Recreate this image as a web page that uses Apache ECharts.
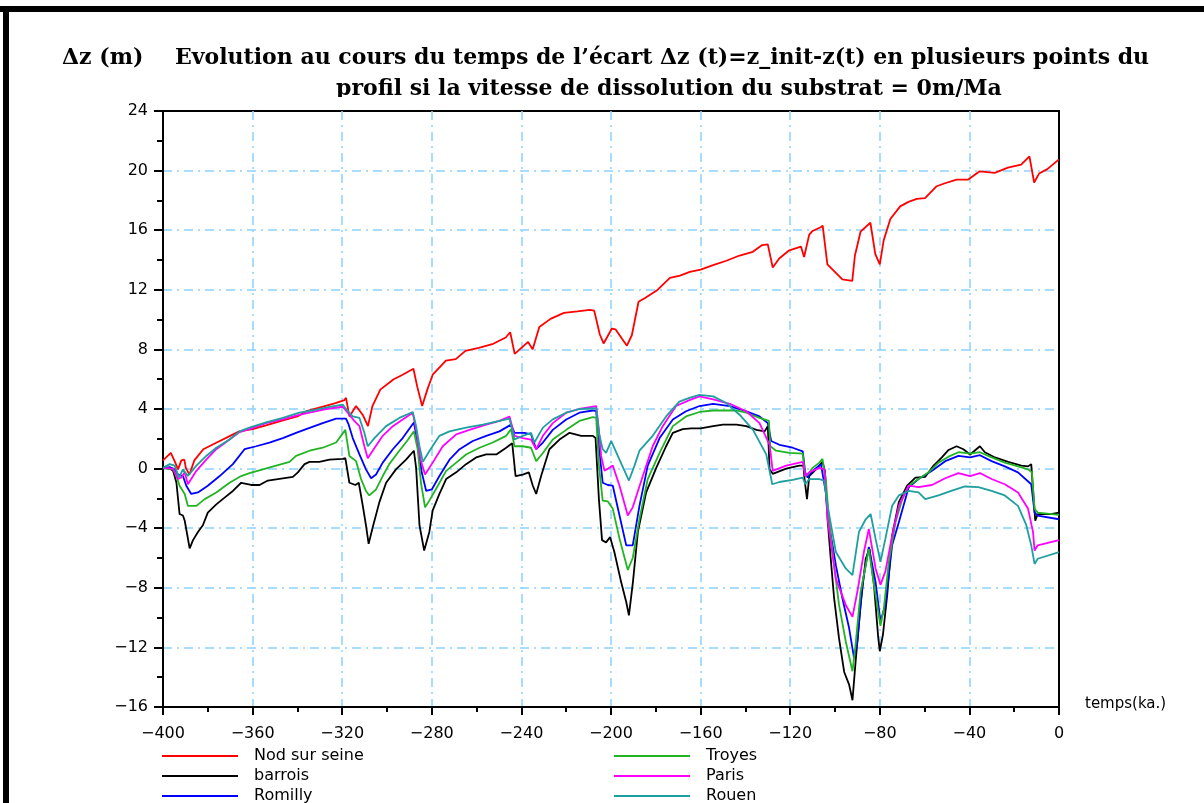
<!DOCTYPE html>
<html><head><meta charset="utf-8">
<script src="https://cdn.jsdelivr.net/npm/echarts/dist/echarts.min.js"></script>
<style>html,body{margin:0;padding:0;background:#fff}#c{width:1204px;height:803px}</style>
</head><body><div id="c"></div>
<script>
// ---- data (time in ka, Δz in m) ----
const xMin = -400, xMax = 0, xStep = 40;
const yMin = -16, yMax = 24, yStep = 4;
const seriesNames = ['Nod sur seine', 'barrois', 'Romilly', 'Troyes', 'Paris', 'Rouen'];
const seriesColors = ['#ff0000', '#000000', '#0000ff', '#22b422', '#ff00ff', '#1f9f9f'];

const nodSurSeine = [[-400,0.55],[-396.5,1.05],[-394.8,0.5],[-393.3,-0.05],[-391.8,0.55],[-390.5,0.6],[-389.8,0.05],[-388.2,-0.4],[-386,0.55],[-382,1.3],[-376,1.75],[-370,2.2],[-366,2.5],[-360,2.65],[-354,2.9],[-346,3.25],[-340,3.5],[-336,3.85],[-329,4.15],[-323,4.4],[-319,4.6],[-318.3,4.75],[-316.8,3.5],[-313.8,4.2],[-310.8,3.6],[-308.5,2.85],[-306.5,4.2],[-303,5.3],[-297,6.0],[-293,6.3],[-288.2,6.7],[-286.5,5.5],[-284.3,4.2],[-282,5.3],[-279.6,6.3],[-273.7,7.25],[-269.3,7.35],[-265,7.9],[-259,8.1],[-253,8.35],[-247,8.8],[-245,9.15],[-243,7.7],[-240,8.1],[-237,8.5],[-235,8.0],[-232,9.5],[-227,10.05],[-221,10.45],[-215,10.55],[-209.5,10.65],[-207.5,10.6],[-205,9.0],[-203.3,8.4],[-199.6,9.4],[-198,9.35],[-195,8.7],[-192.9,8.25],[-190.7,8.95],[-187.7,11.2],[-184.8,11.45],[-179.6,11.95],[-173.7,12.8],[-169.2,12.95],[-164.8,13.2],[-160,13.35],[-154.4,13.65],[-148.5,13.95],[-142.6,14.3],[-136.7,14.55],[-132.5,15.0],[-130,15.05],[-127.8,13.5],[-124.9,14.1],[-120.4,14.65],[-115.2,14.9],[-113.8,14.2],[-111.5,15.7],[-110,15.95],[-106.4,16.2],[-105.5,16.3],[-103.4,13.7],[-96.7,12.7],[-92.3,12.6],[-91.1,14.3],[-88.6,15.9],[-84.2,16.5],[-82,14.4],[-80,13.7],[-78.3,15.3],[-75.3,16.75],[-70.9,17.6],[-67.2,17.9],[-63.5,18.1],[-59.8,18.15],[-54.6,18.95],[-50.9,19.15],[-45.7,19.4],[-40.5,19.4],[-35.4,19.95],[-28.7,19.85],[-22.8,20.2],[-16.9,20.4],[-13.2,20.95],[-11.1,19.2],[-8.9,19.8],[-5.2,20.1],[0,20.75]];

const barrois = [[-400,0.05],[-397,0],[-395.5,-0.15],[-394,-0.95],[-393.3,-2.0],[-392.6,-3.05],[-391.1,-3.15],[-390.3,-3.5],[-388.1,-5.35],[-386.6,-4.8],[-384.4,-4.25],[-382.2,-3.8],[-380,-2.95],[-376.2,-2.4],[-372.5,-1.95],[-368.8,-1.5],[-365.1,-0.95],[-360.6,-1.1],[-356.9,-1.1],[-353.2,-0.8],[-346.5,-0.65],[-342,-0.55],[-339.8,-0.25],[-336.8,0.3],[-334.6,0.45],[-330.2,0.45],[-325.7,0.6],[-319.8,0.65],[-318.6,0.7],[-316.8,-0.95],[-314.1,-1.1],[-312.6,-0.95],[-310.8,-2.5],[-309.4,-3.8],[-308.2,-5.05],[-306.4,-3.95],[-303.4,-2.25],[-300.4,-0.95],[-296,-0.05],[-291.5,0.6],[-288,1.2],[-287,0.05],[-285.5,-3.8],[-283.4,-5.5],[-281.1,-4.25],[-279.6,-2.8],[-276.6,-1.7],[-273.6,-0.7],[-269.1,-0.25],[-264.7,0.3],[-260.2,0.75],[-255.7,0.95],[-251.2,0.95],[-246.8,1.4],[-244.1,1.7],[-242.6,-0.5],[-239.4,-0.4],[-236.7,-0.25],[-234.9,-1.15],[-233.4,-1.7],[-231.2,-0.5],[-227.5,1.3],[-223,1.95],[-218.5,2.4],[-213.3,2.2],[-208.1,2.2],[-206.9,2.05],[-205.4,-2.05],[-204,-4.8],[-202.2,-4.95],[-200.4,-4.6],[-198.5,-5.6],[-195.5,-7.6],[-193.2,-8.95],[-192,-9.85],[-190.2,-7.6],[-188,-4.25],[-184.3,-1.6],[-179.8,0.05],[-175.4,1.5],[-172.4,2.4],[-168,2.65],[-164.2,2.7],[-160,2.7],[-154.4,2.85],[-150,2.95],[-144,2.95],[-139.6,2.85],[-135.1,2.6],[-131.4,2.5],[-130,2.85],[-129.2,-0.05],[-127.8,-0.35],[-121.8,0],[-115.9,0.2],[-114.1,0.2],[-113.6,-0.7],[-112.5,-2.05],[-111.5,-0.5],[-108.5,-0.05],[-105.6,0.45],[-104.5,-0.15],[-103.3,-3.4],[-101.9,-6.05],[-100.4,-8.7],[-98.2,-11.4],[-95.9,-13.65],[-93.7,-14.5],[-92.2,-15.55],[-90.8,-12.95],[-88.6,-9.2],[-86.3,-6.05],[-84.6,-5.4],[-82.6,-7.8],[-80.7,-11.35],[-80,-12.25],[-78.6,-11.15],[-76.7,-8.5],[-74.5,-4.5],[-71.5,-2.25],[-67.8,-1.15],[-64.1,-0.6],[-59.7,-0.55],[-56,0.2],[-52.3,0.75],[-49.3,1.25],[-45.7,1.5],[-42.7,1.3],[-39.7,0.95],[-35.3,1.5],[-33.1,1.1],[-28.6,0.75],[-22.7,0.45],[-16.8,0.2],[-13.8,0.15],[-12.4,0.3],[-11.6,-1.4],[-10.6,-3.5],[-9.5,-3.05],[-3.6,-3.05],[0,-2.95]];

const romilly = [[-400,0.05],[-397,0.1],[-394.8,-0.05],[-393.3,-0.4],[-391.1,-0.5],[-389.6,-1.15],[-387.4,-1.7],[-384.4,-1.6],[-380,-1.15],[-374.7,-0.5],[-368.8,0.3],[-363.6,1.3],[-358.4,1.5],[-352.5,1.75],[-346.5,2.05],[-340.6,2.4],[-336.1,2.65],[-328.7,3.05],[-322.7,3.35],[-318.3,3.35],[-317.1,2.95],[-315.3,2.05],[-312.3,0.95],[-309.4,-0.05],[-307.1,-0.65],[-304.9,-0.4],[-301.9,0.4],[-297.4,1.3],[-293,2.05],[-288,3.1],[-286.3,1.7],[-284.5,-0.25],[-282.5,-1.5],[-280,-1.4],[-276.6,-0.5],[-272.1,0.6],[-267.6,1.3],[-261.7,1.85],[-255.7,2.2],[-249.8,2.5],[-244.6,2.95],[-243.1,2.4],[-238.6,2.4],[-235.7,2.3],[-233.4,1.3],[-230.4,1.75],[-226,2.6],[-220,3.3],[-214.1,3.75],[-208.1,3.9],[-206.6,3.85],[-205.4,1.5],[-203.7,-0.95],[-201.4,-1.1],[-199.2,-1.15],[-196.2,-3.15],[-193.2,-5.15],[-190.3,-5.15],[-187.3,-2.5],[-183.6,0.2],[-178.3,2.05],[-172.4,3.3],[-166.5,3.85],[-160.5,4.2],[-154.4,4.35],[-147,4.2],[-139.6,3.85],[-133.7,3.5],[-130,3.05],[-128.5,1.85],[-124.8,1.6],[-118.9,1.4],[-114.4,1.15],[-113.3,-0.25],[-112.2,-0.6],[-110,-0.15],[-106.3,0.3],[-104.1,-1.6],[-102.6,-3.8],[-99.6,-6.5],[-96.7,-8.7],[-93.7,-10.7],[-91.5,-12.7],[-90,-11.6],[-87.8,-7.8],[-84.9,-5.25],[-81.9,-7.6],[-79.7,-10.25],[-77.5,-9.15],[-74.5,-5.15],[-71.5,-3.6],[-67.1,-1.25],[-62.7,-0.7],[-56.7,-0.15],[-50.8,0.5],[-44.9,0.85],[-39.7,0.75],[-35.3,0.9],[-30.1,0.5],[-24.2,0.15],[-18.3,-0.25],[-12.4,-1.05],[-10.9,-2.95],[-9.5,-3.15],[0,-3.4]];

const troyes = [[-400,0.05],[-395.5,-0.05],[-394,-0.5],[-392.6,-1.15],[-390.3,-1.7],[-388.9,-2.5],[-385.1,-2.5],[-381.4,-2.05],[-376.2,-1.6],[-370.3,-0.95],[-365.1,-0.5],[-361.4,-0.3],[-355.4,-0.05],[-349.5,0.2],[-343.5,0.45],[-340.6,0.85],[-334.6,1.2],[-328.7,1.4],[-322.7,1.75],[-318.6,2.6],[-316.8,0.85],[-313.8,0.5],[-311.6,-0.7],[-309.4,-1.5],[-307.9,-1.8],[-304.9,-1.4],[-301.9,-0.5],[-299,0.3],[-294.5,1.2],[-290.8,1.9],[-288,2.5],[-286.3,1.3],[-284.8,-1.0],[-283,-2.6],[-281.1,-2.15],[-277.3,-1.15],[-273.6,-0.15],[-269.1,0.4],[-264.7,0.95],[-258.7,1.4],[-252.8,1.75],[-246.8,2.2],[-244.6,2.65],[-243.1,1.5],[-239.4,1.5],[-235.7,1.4],[-233.4,0.5],[-230.4,1.05],[-226,1.95],[-220,2.6],[-214.1,3.2],[-208.1,3.45],[-206.6,3.4],[-205.4,0.2],[-203.7,-2.15],[-201.4,-2.2],[-199.2,-2.7],[-196.2,-4.7],[-192.5,-6.8],[-190.3,-6.0],[-187.3,-3.4],[-183.6,-0.7],[-178.3,1.05],[-172.4,2.85],[-166.5,3.5],[-160.5,3.8],[-154.4,3.9],[-144,3.9],[-139.6,3.75],[-133.7,3.4],[-129.5,3.2],[-128.9,1.5],[-126.3,1.2],[-120.4,1.05],[-114.4,1.0],[-113.3,-0.5],[-112,-0.4],[-110,0.05],[-107,0.4],[-105.6,0.65],[-104.1,-0.7],[-102.6,-3.6],[-100.4,-6.5],[-98.2,-9.15],[-95.2,-11.6],[-92.2,-13.6],[-90.8,-11.8],[-88.6,-8.3],[-84.9,-5.4],[-82.6,-7.8],[-79.7,-10.55],[-78.2,-9.4],[-76,-6.3],[-73,-3.6],[-70,-2.05],[-67.1,-1.15],[-62.7,-0.7],[-58.2,-0.25],[-53.8,0.4],[-49.3,0.8],[-44.9,1.1],[-39.7,1.0],[-35.3,1.1],[-30.1,0.75],[-24.2,0.4],[-18.3,0.15],[-13.8,-0.05],[-12.1,-0.25],[-10.9,-2.7],[-9.5,-2.95],[0,-3.1]];

const paris = [[-400,0.05],[-395.5,0],[-393.3,-0.7],[-391.8,-0.6],[-390.3,-0.25],[-388.9,-1.05],[-385.1,-0.15],[-380.7,0.6],[-376.2,1.3],[-370.3,1.95],[-365.8,2.45],[-361.4,2.65],[-354,3.05],[-346.5,3.3],[-340.6,3.55],[-334.6,3.75],[-327.2,4.0],[-319.8,4.15],[-317.5,3.75],[-314.6,3.2],[-312.3,2.85],[-310.1,1.5],[-308.6,0.7],[-306.4,1.2],[-301.9,2.2],[-297.4,2.85],[-293,3.3],[-288.5,3.75],[-287,2.6],[-285,0.6],[-283,-0.4],[-279.6,0.4],[-275.1,1.5],[-269.1,2.3],[-263.2,2.6],[-255.7,2.95],[-249.8,3.2],[-245.3,3.5],[-243.1,2.2],[-239.4,2.05],[-235.7,1.95],[-233.4,1.3],[-230.4,2.2],[-226,3.05],[-220,3.75],[-214.1,4.0],[-206.6,4.2],[-205.4,2.6],[-204.4,0.85],[-202.9,-0.15],[-199.2,0.2],[-196.2,-1.15],[-192.5,-3.15],[-190.3,-2.6],[-185.8,-0.5],[-181.4,1.5],[-176.9,2.85],[-171,4.2],[-165,4.6],[-160.5,4.85],[-154.4,4.65],[-147,4.35],[-139.6,3.85],[-133.7,3.05],[-129.2,1.6],[-127.8,-0.15],[-121.8,0.2],[-114.4,0.45],[-113.3,-0.5],[-111.5,-0.25],[-107,0.05],[-104.8,-0.05],[-103.3,-3.4],[-99.6,-7.4],[-95.2,-9.15],[-92.2,-9.95],[-90,-8.25],[-87.1,-5.6],[-84.9,-4.05],[-81.9,-6.7],[-79.7,-7.8],[-77.5,-6.9],[-74.5,-4.5],[-71.5,-2.5],[-67.1,-1.15],[-62.7,-1.25],[-56.7,-1.1],[-50.8,-0.65],[-44.9,-0.3],[-39.7,-0.5],[-35.3,-0.3],[-30.1,-0.7],[-24.2,-1.05],[-18.3,-1.6],[-13.8,-2.7],[-11.6,-4.25],[-10.9,-5.5],[-9.5,-5.15],[0,-4.8]];

const rouen = [[-400,0.05],[-397,0.3],[-394.8,0.2],[-392.9,-0.6],[-391.1,-0.05],[-388.9,-0.5],[-385.1,0.2],[-380.7,0.85],[-376.2,1.4],[-370.3,1.95],[-365.8,2.5],[-361.4,2.75],[-354,3.1],[-346.5,3.4],[-339.1,3.75],[-331.6,3.95],[-325.7,4.15],[-319.8,4.3],[-318,3.95],[-315.3,3.5],[-312.3,3.4],[-310.1,2.4],[-308.6,1.5],[-305.6,2.05],[-300.4,2.85],[-294.5,3.4],[-288.5,3.8],[-287,2.85],[-285.5,1.5],[-284,0.45],[-281,1.2],[-276.6,2.2],[-272.1,2.5],[-264.7,2.75],[-257.2,2.95],[-249.8,3.2],[-245.3,3.35],[-243.1,1.95],[-239.4,2.2],[-235.7,2.4],[-234.2,1.75],[-230.4,2.75],[-226,3.3],[-220,3.75],[-214.1,4.0],[-206.6,4.05],[-205.4,2.4],[-203.7,1.3],[-202.2,1.05],[-199.9,1.85],[-196.2,0.6],[-192,-0.8],[-189.5,0.2],[-187.3,1.2],[-181.4,2.2],[-175.4,3.5],[-169.5,4.5],[-165,4.75],[-160.5,4.95],[-154.4,4.85],[-148.5,4.4],[-142.5,3.6],[-136.6,2.6],[-130.7,0.95],[-128,-1.05],[-124.8,-0.9],[-118.9,-0.75],[-114.4,-0.6],[-113.3,-1.05],[-111.5,-0.7],[-107,-0.7],[-104.8,-0.8],[-103.3,-2.5],[-99.6,-5.6],[-95.2,-6.7],[-92.2,-7.15],[-89.3,-4.25],[-86.3,-3.4],[-84.1,-3.05],[-81.9,-4.7],[-79.7,-6.25],[-77.5,-4.7],[-74.5,-2.5],[-71.5,-1.8],[-67.1,-1.5],[-62.7,-1.6],[-59.7,-2.05],[-53.8,-1.8],[-48.1,-1.5],[-42,-1.2],[-36,-1.25],[-30.1,-1.5],[-24.2,-1.8],[-18.3,-2.5],[-14.6,-3.8],[-12.4,-5.15],[-10.9,-6.4],[-9.5,-6.05],[0,-5.6]];

const seriesData = [nodSurSeine, barrois, romilly, troyes, paris, rouen];

const titleUnit = 'Δz (m)';
const titleLine1 = 'Evolution au cours du temps de l’écart Δz (t)=z_init-z(t) en plusieurs points du';
const titleLine2 = 'profil si la vitesse de dissolution du substrat = 0m/Ma';
const xAxisName = 'temps(ka.)';

// ---- chart ----
const fmt = v => (v < 0 ? '\u2212' + Math.abs(v) : String(v));
const gridColor = '#8cd2ff';
const tickFont = {color:'#000', fontFamily:'DejaVu Sans', fontSize:16};
const titleFont = 'bold 22px "DejaVu Serif"';

const chart = echarts.init(document.getElementById('c'), null, {renderer:'canvas'});
const legendCommon = {
  orient:'vertical', top:748, height:60, padding:0, icon:'rect', itemWidth:76, itemHeight:2, itemGap:4,
  textStyle:{color:'#000', fontFamily:'DejaVu Sans', fontSize:16, lineHeight:14, padding:[0,0,0,11]},
  selectedMode:false
};
const splitCommon = {show:true, showMinLine:false, showMaxLine:false, lineStyle:{color:gridColor, width:1.5, type:[9,5,2,5]}};
chart.setOption({
  animation:false,
  backgroundColor:'#fff',
  grid:{left:163, top:111, right:145, bottom:96, show:true, borderColor:'#000', borderWidth:2, backgroundColor:'transparent'},
  xAxis:{type:'value', min:xMin, max:xMax, interval:xStep,
    axisLine:{show:true, onZero:false, lineStyle:{color:'#000', width:2}},
    axisTick:{show:true, length:8, lineStyle:{color:'#000', width:2}},
    minorTick:{show:true, splitNumber:2, length:5, lineStyle:{color:'#000', width:2}},
    splitLine:splitCommon,
    axisLabel:Object.assign({margin:19, formatter:fmt}, tickFont)},
  yAxis:{type:'value', min:yMin, max:yMax, interval:yStep,
    axisLine:{show:true, onZero:false, lineStyle:{color:'#000', width:2}},
    axisTick:{show:true, length:9, lineStyle:{color:'#000', width:2}},
    minorTick:{show:true, splitNumber:2, length:6, lineStyle:{color:'#000', width:2}},
    splitLine:splitCommon,
    axisLabel:Object.assign({margin:15, formatter:fmt}, tickFont)},
  legend:[
    Object.assign({left:162, data:seriesNames.slice(0,3)}, legendCommon),
    Object.assign({left:614, data:seriesNames.slice(3,6)}, legendCommon)
  ],
  series: seriesNames.map((n,i) => ({
    name:n, type:'line', data:seriesData[i], showSymbol:false, symbol:'none',
    color:seriesColors[i], lineStyle:{width:1.8, color:seriesColors[i]}, z:2+i
  })),
  graphic:[
    {type:'rect', shape:{x:0, y:6, width:1204, height:6}, style:{fill:'#000'}},
    {type:'rect', shape:{x:3, y:6, width:6, height:797}, style:{fill:'#000'}},
    {type:'text', left:62, top:47, style:{text:titleUnit, font:titleFont, fill:'#000'}},
    {type:'text', left:175, top:47, style:{text:titleLine1, font:titleFont, fill:'#000'}},
    {type:'text', left:336, top:78, style:{text:titleLine2, font:titleFont, fill:'#000'}},
    {type:'rect', shape:{x:300, y:97, width:800, height:12}, style:{fill:'#fff'}, z:100},
    {type:'text', left:1085, top:697, style:{text:xAxisName, font:'15px "DejaVu Sans"', fill:'#000'}}
  ]
});
</script></body></html>
